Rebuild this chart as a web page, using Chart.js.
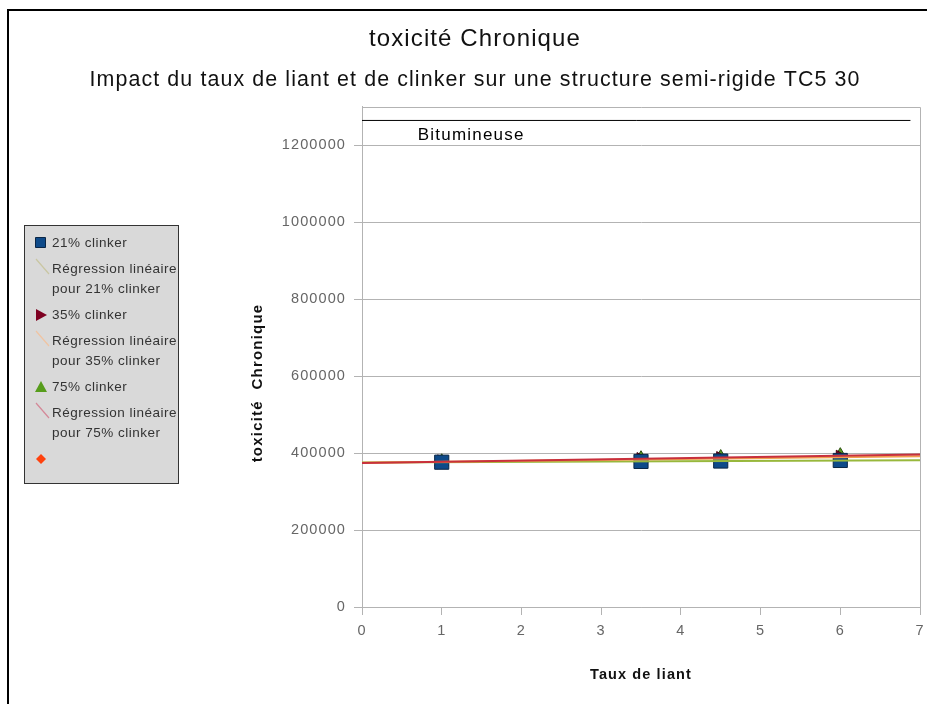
<!DOCTYPE html>
<html>
<head>
<meta charset="utf-8">
<script src="https://cdn.jsdelivr.net/npm/chart.js@4.4.1/dist/chart.umd.min.js"></script>
<style>
  html, body { margin: 0; padding: 0; background: #fff; }
  #wrap { width: 927px; height: 704px; position: relative; }
</style>
</head>
<body>
<div id="wrap"><canvas id="toxChart"></canvas></div>
<script>
// taux de liant (x) and toxicité chronique for each clinker rate
var tauxLiant = [1, 3.5, 4.5, 6];
var clinker21 = [376500, 378500, 379500, 381000];
var clinker35 = [377500, 383500, 386000, 389500];
var clinker75 = [377500, 385500, 388500, 393500];

// regression lines, read at both ends of the x axis
var regX = [0, 7];
var reg21 = [375500, 381800];
var reg35 = [375000, 392000];
var reg75 = [374500, 396500];

// reference line "Bitumineuse"
var bitumX = [0, 6.88];
var bitumY = [1265000, 1265000];

var xTicks = [0, 1, 2, 3, 4, 5, 6, 7];
var yTicks = [0, 200000, 400000, 600000, 800000, 1000000, 1200000];

var FONT = "'Liberation Sans', Arial, sans-serif";

function pts(xs, ys) {
  return xs.map(function (x, i) { return { x: x, y: ys[i] }; });
}

// legend entries (drawn in the grey box on the left)
var legendItems = [
  { lines: ['21% clinker'], sym: 'rect', color: '#0e4a89', border: '#0a2646' },
  { lines: ['Régression linéaire', 'pour 21% clinker'], sym: 'line', color: '#c9c6a2' },
  { lines: ['35% clinker'], sym: 'tri-right', color: '#7e0021' },
  { lines: ['Régression linéaire', 'pour 35% clinker'], sym: 'line', color: '#f0c4a2' },
  { lines: ['75% clinker'], sym: 'tri-up', color: '#579d1c' },
  { lines: ['Régression linéaire', 'pour 75% clinker'], sym: 'line', color: '#d48898' },
  { lines: [''], sym: 'diamond', color: '#ff420e' }
];

var spacing = {
  id: 'spacing',
  beforeLayout: function (chart) { chart.ctx.letterSpacing = '1.1px'; },
  beforeDraw: function (chart) {
    var ctx = chart.ctx;
    ctx.letterSpacing = '1.1px';
    ctx.save();
    ctx.fillStyle = '#fff';
    ctx.fillRect(0, 0, chart.width, chart.height);
    ctx.restore();
  },
  beforeDatasetsDraw: function (chart) {
    var a = chart.chartArea, ctx = chart.ctx;
    ctx.save();
    ctx.strokeStyle = '#b3b3b3';
    ctx.lineWidth = 1;
    ctx.beginPath();
    ctx.moveTo(a.left, Math.round(a.top) + 0.5);
    ctx.lineTo(Math.round(a.right) + 0.5, Math.round(a.top) + 0.5);
    ctx.lineTo(Math.round(a.right) + 0.5, a.bottom);
    ctx.stroke();
    ctx.restore();
  },
  afterDatasetsDraw: function (chart) {
    var ctx = chart.ctx;
    ctx.save();
    ctx.letterSpacing = '1.2px';
    ctx.fillStyle = '#000';
    ctx.font = '17px ' + FONT;
    ctx.textBaseline = 'middle';
    ctx.fillText('Bitumineuse', chart.scales.x.getPixelForValue(0.7), chart.scales.y.getPixelForValue(bitumY[0]) + 15);
    ctx.restore();
  },
  afterDraw: function (chart) {
    var ctx = chart.ctx;
    ctx.save();
    // outer frame
    ctx.fillStyle = '#000';
    ctx.fillRect(7, 9, chart.width - 7, 2);
    ctx.fillRect(7, 9, 2, chart.height - 9);

    // y axis title
    ctx.save();
    ctx.translate(258, 383);
    ctx.rotate(-Math.PI / 2);
    ctx.letterSpacing = '1.2px';
    ctx.font = 'bold 15px ' + FONT;
    ctx.fillStyle = '#111';
    ctx.textAlign = 'center';
    ctx.textBaseline = 'middle';
    ctx.fillText('toxicité  Chronique', 0, 0);
    ctx.restore();

    // legend box
    ctx.fillStyle = '#d9d9d9';
    ctx.fillRect(24, 225, 154, 258);
    ctx.strokeStyle = '#333';
    ctx.lineWidth = 1;
    ctx.strokeRect(24.5, 225.5, 154, 258);

    ctx.letterSpacing = '0.5px';
    ctx.font = '13.5px ' + FONT;
    ctx.textBaseline = 'middle';
    var y = 243;
    legendItems.forEach(function (it) {
      var sx = 41;
      ctx.fillStyle = it.color;
      ctx.strokeStyle = it.border || it.color;
      ctx.beginPath();
      if (it.sym === 'rect') {
        ctx.rect(35.5, y - 5.5, 10, 10);
        ctx.fill(); ctx.stroke();
      } else if (it.sym === 'line') {
        ctx.lineWidth = 1.2;
        ctx.moveTo(36, y - 10); ctx.lineTo(49, y + 5);
        ctx.stroke();
      } else if (it.sym === 'tri-right') {
        ctx.moveTo(36, y - 6); ctx.lineTo(47, y); ctx.lineTo(36, y + 6);
        ctx.closePath(); ctx.fill();
      } else if (it.sym === 'tri-up') {
        ctx.moveTo(sx, y - 6); ctx.lineTo(sx + 6, y + 5); ctx.lineTo(sx - 6, y + 5);
        ctx.closePath(); ctx.fill();
      } else if (it.sym === 'diamond') {
        ctx.moveTo(sx, y - 5); ctx.lineTo(sx + 5, y); ctx.lineTo(sx, y + 5); ctx.lineTo(sx - 5, y);
        ctx.closePath(); ctx.fill();
      }
      ctx.fillStyle = '#333';
      it.lines.forEach(function (t, k) {
        ctx.fillText(t, 52, y + k * 20);
      });
      y += it.lines.length * 20 + 6;
    });
    ctx.restore();
  }
};

var ctx = document.getElementById('toxChart').getContext('2d');
var toxChart = new Chart(ctx, {
  type: 'scatter',
  data: {
    datasets: [
      { type: 'line', label: 'Régression linéaire pour 75% clinker', data: pts(regX, reg75),
        borderColor: '#c8303c', borderWidth: 2, pointRadius: 0, fill: false },
      { type: 'line', label: 'Régression linéaire pour 35% clinker', data: pts(regX, reg35),
        borderColor: '#f0a050', borderWidth: 2, pointRadius: 0, fill: false },
      { type: 'line', label: 'Régression linéaire pour 21% clinker', data: pts(regX, reg21),
        borderColor: '#98b83c', borderWidth: 2, pointRadius: 0, fill: false },
      { type: 'line', label: 'Bitumineuse', data: pts(bitumX, bitumY),
        borderColor: '#000', borderWidth: 1, pointRadius: 0, fill: false, clip: false },
      { label: '21% clinker', data: pts(tauxLiant, clinker21), pointStyle: 'rect', pointRadius: 10,
        backgroundColor: '#0e4a89', borderColor: '#0a2646', borderWidth: 1 },
      { label: '35% clinker', data: pts(tauxLiant, clinker35), pointStyle: 'triangle', rotation: 90,
        pointRadius: 8, backgroundColor: '#7e0021', borderColor: '#3f0010', borderWidth: 1 },
      { label: '75% clinker', data: pts(tauxLiant, clinker75), pointStyle: 'triangle',
        pointRadius: 8, backgroundColor: '#579d1c', borderColor: '#2b4e0e', borderWidth: 1 }
    ]
  },
  options: {
    responsive: true,
    maintainAspectRatio: false,
    animation: false,
    layout: { autoPadding: false, padding: { left: 30, right: 7, top: 0, bottom: 0 } },
    plugins: {
      legend: { display: false },
      tooltip: { enabled: false },
      title: {
        display: true, text: 'toxicité Chronique', color: '#111',
        font: { family: FONT, size: 24, weight: 'normal' },
        padding: { top: 25, bottom: 0 }
      },
      subtitle: {
        display: true, text: 'Impact du taux de liant et de clinker sur une structure semi-rigide TC5 30',
        color: '#111', font: { family: FONT, size: 21.4, weight: 'normal' },
        padding: { top: 13, bottom: 14.5 }
      }
    },
    scales: {
      x: {
        type: 'linear', min: 0, max: 7,
        afterBuildTicks: function (s) { s.ticks = xTicks.map(function (v) { return { value: v }; }); },
        afterFit: function (s) { s.height = 97; },
        grid: { drawOnChartArea: false, tickLength: 8, color: '#b3b3b3' },
        border: { color: '#b3b3b3' },
        ticks: { color: '#666', font: { family: FONT, size: 14.5, lineHeight: 2.2 }, padding: 0 },
        title: { display: true, text: 'Taux de liant', color: '#111',
          font: { family: FONT, size: 14.5, weight: 'bold' }, padding: { top: 0, bottom: 20 } }
      },
      y: {
        min: 0, max: 1300000,
        afterBuildTicks: function (s) { s.ticks = yTicks.map(function (v) { return { value: v }; }); },
        afterFit: function (s) { s.width = 332; },
        grid: { color: '#b3b3b3', tickLength: 8 },
        border: { color: '#b3b3b3' },
        ticks: { color: '#666', font: { family: FONT, size: 14.5 }, padding: 8,
          callback: function (v) { return String(v); } },
        title: { display: false }
      }
    }
  },
  plugins: [spacing]
});
</script>
</body>
</html>
